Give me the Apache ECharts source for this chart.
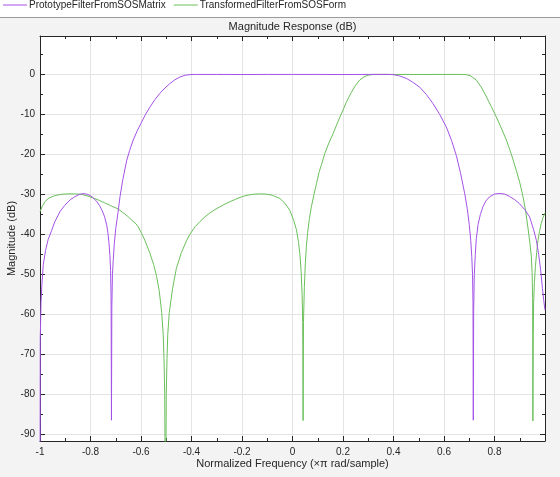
<!DOCTYPE html>
<html>
<head>
<meta charset="utf-8">
<script src="https://cdn.jsdelivr.net/npm/echarts@6/dist/echarts.min.js"></script>
<style>html,body{margin:0;padding:0;background:#f3f3f3}#c{width:560px;height:477px}</style>
</head>
<body>
<div id="c"></div>
<script>
const seriesNames = ['PrototypeFilterFromSOSMatrix', 'TransformedFilterFromSOSForm'];

const protoFreq = [-1, -0.999, -0.996, -0.993, -0.987, -0.978, -0.968, -0.954, -0.942, -0.92, -0.902, -0.88, -0.863, -0.845, -0.83, -0.815, -0.8, -0.79, -0.776, -0.764, -0.754, -0.744, -0.736, -0.731, -0.727, -0.723, -0.7205, -0.7185, -0.717, -0.7155, -0.713, -0.71, -0.706, -0.7, -0.691, -0.683, -0.672, -0.657, -0.645, -0.631, -0.615, -0.6, -0.583, -0.565, -0.545, -0.525, -0.505, -0.486, -0.466, -0.446, -0.425, -0.402, -0.38, -0.3, -0.2, -0.1, 0, 0.1, 0.2, 0.3, 0.38, 0.398, 0.42, 0.451, 0.475, 0.504, 0.53, 0.556, 0.583, 0.609, 0.63, 0.649, 0.665, 0.682, 0.692, 0.7, 0.706, 0.71, 0.713, 0.7148, 0.716, 0.7175, 0.72, 0.724, 0.728, 0.735, 0.744, 0.754, 0.766, 0.78, 0.8, 0.82, 0.84, 0.86, 0.88, 0.899, 0.92, 0.939, 0.955, 0.966, 0.975, 0.983, 0.99, 0.995, 1];
const protoMag = [-120, -66, -57, -53, -47.5, -44, -41.3, -39, -36.9, -34.2, -32.7, -31.3, -30.6, -30, -29.8, -29.9, -30.3, -30.8, -31.7, -32.8, -34, -35.6, -37.6, -39.6, -42, -45.3, -49, -56, -86.4, -58, -50, -46.5, -42.5, -38.5, -34.5, -30.5, -26.3, -21.6, -19, -16.4, -14.1, -12.2, -10.1, -8.2, -6.3, -4.7, -3.4, -2.3, -1.35, -0.65, -0.2, -0.02, 0, 0, -0.03, 0, 0, 0, -0.03, 0, 0, -0.05, -0.3, -1.0, -1.9, -3.2, -5.0, -7.25, -10.0, -13.1, -16.5, -20.3, -24.5, -29.8, -33.5, -37.5, -41.5, -45.5, -50, -57, -86.4, -59, -50, -45, -41, -37.5, -35, -33.1, -31.6, -30.6, -29.9, -29.75, -29.9, -30.5, -31.3, -32.3, -33.8, -35.6, -38.8, -41.5, -45, -49, -53.5, -56.5, -58.9];

const transFreq = [-1, -0.99, -0.981, -0.965, -0.942, -0.915, -0.889, -0.863, -0.837, -0.81, -0.784, -0.764, -0.744, -0.72, -0.691, -0.672, -0.652, -0.632, -0.62, -0.612, -0.6, -0.585, -0.565, -0.55, -0.538, -0.528, -0.518, -0.512, -0.509, -0.506, -0.503, -0.5, -0.497, -0.494, -0.488, -0.475, -0.46, -0.44, -0.42, -0.406, -0.385, -0.367, -0.347, -0.327, -0.308, -0.288, -0.268, -0.248, -0.225, -0.202, -0.18, -0.155, -0.13, -0.105, -0.08, -0.05, -0.03, -0.011, 0.005, 0.016, 0.024, 0.029, 0.034, 0.038, 0.0405, 0.042, 0.0435, 0.047, 0.051, 0.055, 0.06, 0.067, 0.075, 0.085, 0.095, 0.105, 0.115, 0.128, 0.145, 0.161, 0.18, 0.2, 0.215, 0.233, 0.25, 0.266, 0.283, 0.299, 0.32, 0.4, 0.5, 0.6, 0.66, 0.688, 0.705, 0.728, 0.748, 0.768, 0.787, 0.807, 0.827, 0.847, 0.866, 0.886, 0.9, 0.913, 0.923, 0.932, 0.94, 0.946, 0.949, 0.951, 0.952, 0.9535, 0.955, 0.958, 0.962, 0.967, 0.972, 0.978, 0.985, 0.992, 1];
const transMag = [-34.3, -32.8, -31.8, -30.9, -30.3, -29.95, -29.85, -29.85, -29.95, -30.4, -31, -31.5, -32.1, -32.8, -33.6, -34.5, -35.5, -36.7, -37.3, -38.0, -39.4, -41.4, -44.6, -47.5, -50.5, -54, -59.5, -65, -71, -80, -120, -80, -71, -65, -59.5, -53.5, -48.5, -44.5, -41.6, -39.9, -38, -36.8, -35.6, -34.6, -33.8, -33.1, -32.4, -31.8, -31.2, -30.6, -30.2, -29.95, -29.85, -29.9, -30.2, -31, -32.2, -33.9, -36.5, -38.9, -42, -44.75, -49, -55, -62, -86.5, -62, -53, -47, -43, -39.5, -36, -33, -30, -27.3, -24.5, -22.5, -19.75, -17, -14.75, -11.8, -8.9, -6.7, -4.5, -2.7, -1.4, -0.6, -0.2, 0, 0, -0.03, 0, 0, -0.05, -0.35, -1.4, -3.2, -5.6, -8, -10.6, -13.4, -16.4, -19.8, -23.9, -27, -30.6, -34, -38.1, -42, -45.6, -49.5, -56, -86.6, -65, -57, -52, -48, -44.5, -41.6, -39.3, -37.3, -35.8, -34.6];

const yTicks = [-90, -80, -70, -60, -50, -40, -30, -20, -10, 0];
const yMinorTicks = [-85, -75, -65, -55, -45, -35, -25, -15, -5, 5];

const X_MIN = -1, X_MAX = 1, Y_MIN = -91.6, Y_MAX = 9.6;
const INK = '#262626';
const FONT = '"Liberation Sans", Arial, Helvetica, sans-serif';

function zip(xs, ys) { return xs.map((x, i) => [x, ys[i]]); }

const chart = echarts.init(document.getElementById('c'), null, { renderer: 'canvas' });

function yAxisMain(pos) {
  return {
    type: 'value', position: pos, min: Y_MIN, max: Y_MAX,
    minInterval: 10, maxInterval: 10,
    name: pos === 'left' ? 'Magnitude (dB)' : '',
    nameLocation: 'middle', nameGap: 23, nameMoveOverlap: false,
    nameTextStyle: { color: INK, fontSize: 11, fontFamily: FONT },
    axisLine: { show: true, onZero: false, lineStyle: { color: INK, width: 1 } },
    axisTick: { show: true, inside: true, length: 5, lineStyle: { color: INK }, customValues: yTicks },
    axisLabel: { show: pos === 'left', color: INK, fontSize: 10, fontFamily: FONT, margin: 5, customValues: yTicks },
    splitLine: { show: pos === 'left', lineStyle: { color: '#e4e4e4', width: 1 } },
    minorTick: { show: false }
  };
}
function yAxisMinor(pos) {
  return {
    type: 'value', position: pos, min: Y_MIN, max: Y_MAX,
    minInterval: 10, maxInterval: 10,
    axisLine: { show: false, onZero: false },
    axisTick: { show: true, inside: true, length: 3, lineStyle: { color: INK }, customValues: yMinorTicks },
    axisLabel: { show: false },
    splitLine: { show: false }
  };
}
function xAxisDef(pos) {
  return {
    type: 'value', position: pos, min: X_MIN, max: X_MAX, interval: 0.2,
    name: pos === 'bottom' ? 'Normalized Frequency (\u00d7\u03c0 rad/sample)' : '',
    nameLocation: 'middle', nameGap: 17, nameMoveOverlap: false,
    nameTextStyle: { color: INK, fontSize: 11, fontFamily: FONT },
    axisLine: { show: true, onZero: false, lineStyle: { color: INK, width: 1 } },
    axisTick: { show: true, inside: true, length: 5, lineStyle: { color: INK } },
    minorTick: { show: true, splitNumber: 2, length: 3, lineStyle: { color: INK } },
    axisLabel: {
      show: pos === 'bottom', color: INK, fontSize: 10, fontFamily: FONT, margin: 6,
      showMaxLabel: false,
      formatter: v => String(Math.round(v * 10) / 10)
    },
    splitLine: { show: pos === 'bottom', lineStyle: { color: '#e4e4e4', width: 1 } }
  };
}

const LEGEND_ICON = 'path://M0,0H24V1H0Z';

const option = {
  animation: false,
  backgroundColor: '#f3f3f3',
  textStyle: { fontFamily: FONT },
  graphic: [
    { type: 'rect', z: -10, shape: { x: 0, y: 0, width: 560, height: 17 }, style: { fill: '#ffffff' }, silent: true },
    { type: 'line', z: -10, shape: { x1: 0, y1: 17.5, x2: 560, y2: 17.5 }, style: { stroke: '#9a9a9a', lineWidth: 1 }, silent: true }
  ],
  title: {
    text: 'Magnitude Response (dB)',
    left: 292.5, top: 21, textAlign: 'center', padding: 0,
    textStyle: { color: INK, fontSize: 11, fontWeight: 'normal', fontFamily: FONT }
  },
  legend: {
    data: seriesNames.map(n => ({ name: n, icon: LEGEND_ICON })),
    left: 3, top: 0, padding: 0, itemWidth: 24, itemHeight: 14, itemGap: 8, z: 10,
    textStyle: { color: INK, fontSize: 10, fontFamily: FONT, padding: [0, 0, 0, -3] }
  },
  grid: { left: 40, right: 15, top: 36, bottom: 36, show: true, backgroundColor: '#ffffff', borderWidth: 0, containLabel: false, outerBoundsMode: 'none' },
  xAxis: [xAxisDef('bottom'), xAxisDef('top')],
  yAxis: [yAxisMain('left'), yAxisMinor('left'), yAxisMain('right'), yAxisMinor('right')],
  series: [
    {
      name: seriesNames[0], type: 'line', xAxisIndex: 0, yAxisIndex: 0,
      data: zip(protoFreq, protoMag), showSymbol: false, symbol: 'none', clip: true,
      lineStyle: { color: '#a352e6', width: 1 }, itemStyle: { color: '#a352e6' }, z: 3
    },
    {
      name: seriesNames[1], type: 'line', xAxisIndex: 0, yAxisIndex: 0,
      data: zip(transFreq, transMag), showSymbol: false, symbol: 'none', clip: true,
      lineStyle: { color: '#6abf5a', width: 1 }, itemStyle: { color: '#6abf5a' }, z: 2
    }
  ]
};
chart.setOption(option);
</script>
</body>
</html>
